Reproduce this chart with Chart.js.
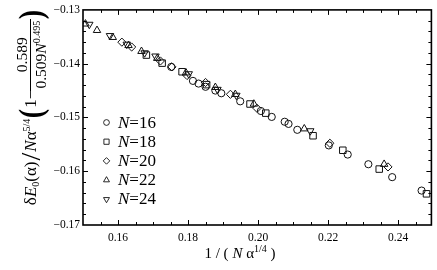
<!DOCTYPE html>
<html>
<head>
<meta charset="utf-8">
<script src="https://cdn.jsdelivr.net/npm/chart.js@4/dist/chart.umd.min.js"></script>
<style>
  html,body{margin:0;padding:0;background:#fff;}
  #wrap{position:relative;width:437px;height:270px;overflow:hidden;font-family:"Liberation Serif","Times New Roman",serif;color:#000;}
  canvas{position:absolute;left:0;top:0;}
  #ytitle{position:absolute;left:-79px;top:91px;width:220px;height:32px;transform:rotate(-90deg);display:flex;align-items:center;justify-content:center;font-size:17px;white-space:nowrap;}
  #ytitle sub,#ytitle sup,#xtitle sup{font-size:10px;line-height:1;}
  #ytitle sub{vertical-align:-3px;}
  #ytitle sup,#xtitle sup{vertical-align:6px;}
  .slash{font-size:28px;line-height:28px;margin:0 1px;}
  .paren{font-size:33px;line-height:33px;transform:scaleX(0.85);font-weight:bold;}
  .frac{display:inline-flex;flex-direction:column;align-items:center;font-size:15.5px;line-height:14px;margin:0 1px;}
  .frac .num{border-bottom:1px solid #000;padding:0 2px 1px 2px;width:100%;text-align:center;}
  .frac .den{padding-top:1px;}
  .frac sup{font-size:9.5px;vertical-align:5px;}
  #xtitle{position:absolute;left:170px;width:140px;top:244px;line-height:18px;text-align:center;font-size:15px;white-space:nowrap;}
  .leg{position:absolute;left:118px;font-size:17px;line-height:19px;white-space:nowrap;}
</style>
</head>
<body>
<div id="wrap">
  <canvas id="c" width="437" height="270"></canvas>
  <div id="ytitle"><span>δ<i>E</i><sub>0</sub>(α)</span><span class="slash">/</span><span><i>N</i>α<sup>5/4</sup></span><span class="paren">(</span><span>1−</span><span class="frac"><span class="num">0.589</span><span class="den">0.509<i>N</i><sup>0.495</sup></span></span><span class="paren">)</span></div>
  <div id="xtitle">1 / ( <i>N</i> α<sup>1/4</sup> )</div>
</div>
<script>
// ---- data ----
const xTicks = [0.16, 0.18, 0.20, 0.22, 0.24];
const yTicks = [-0.17, -0.16, -0.15, -0.14, -0.13];
const seriesLabels = ["16", "18", "20", "22", "24"];

const n16x = [0.1752, 0.1814, 0.1830, 0.1850, 0.1878, 0.1895, 0.1949, 0.2008, 0.2039, 0.2076, 0.2087, 0.2112, 0.2202, 0.2256, 0.2315, 0.2383, 0.2467];
const n16y = [-0.1406, -0.1432, -0.1437, -0.1443, -0.1450, -0.1455, -0.1470, -0.1488, -0.1499, -0.1508, -0.1512, -0.1523, -0.1552, -0.1569, -0.1587, -0.1611, -0.1636];

const n18x = [0.1681, 0.1726, 0.1783, 0.1853, 0.1977, 0.2022, 0.2157, 0.2242, 0.2346, 0.2481];
const n18y = [-0.1384, -0.1399, -0.1415, -0.1439, -0.1475, -0.1492, -0.1534, -0.1561, -0.1596, -0.1642];

const n20x = [0.1611, 0.1639, 0.1721, 0.1754, 0.1797, 0.1850, 0.1921, 0.1997, 0.2205, 0.2371];
const n20y = [-0.1360, -0.1369, -0.1395, -0.1406, -0.1422, -0.1435, -0.1457, -0.1483, -0.1548, -0.1592];

const n22x = [0.1507, 0.1540, 0.1585, 0.1630, 0.1667, 0.1712, 0.1794, 0.1878, 0.1935, 0.1988, 0.2132, 0.2360];
const n22y = [-0.1326, -0.1338, -0.1351, -0.1366, -0.1377, -0.1390, -0.1417, -0.1444, -0.1457, -0.1475, -0.1521, -0.1587];

const n24x = [0.1518, 0.1577, 0.1625, 0.1676, 0.1707, 0.1802, 0.1884, 0.1938, 0.2149];
const n24y = [-0.1327, -0.1348, -0.1364, -0.1380, -0.1386, -0.1419, -0.1448, -0.1459, -0.1525];

// ---- build ----
function pts(xs, ys){ return xs.map((v,i)=>({x:v, y:ys[i]})); }
const styles = [
  {pointStyle:'circle',   pointRadius:3.6, pointRotation:0},
  {pointStyle:'rect',     pointRadius:4.6, pointRotation:0},
  {pointStyle:'rectRot',  pointRadius:4.1, pointRotation:0},
  {pointStyle:'triangle', pointRadius:4.3, pointRotation:0},
  {pointStyle:'triangle', pointRadius:4.3, pointRotation:180}
];
const allX = [n16x, n18x, n20x, n22x, n24x];
const allY = [n16y, n18y, n20y, n22y, n24y];
const datasets = allX.map((xs,i)=>Object.assign({
  label: 'N=' + seriesLabels[i],
  data: pts(xs, allY[i]),
  showLine:false,
  pointBorderColor:'#111',
  pointBackgroundColor:'rgba(0,0,0,0)',
  pointBorderWidth:1
}, styles[i]));

const X_MIN = 0.15, X_MAX = 0.2495, Y_MIN = -0.17, Y_MAX = -0.13;
const X_MINOR = 0.005, Y_MINOR = 0.002;

const frameTicks = {
  id:'frameTicks',
  afterDraw(chart){
    const ctx = chart.ctx, a = chart.chartArea, x = chart.scales.x, y = chart.scales.y;
    ctx.save();
    ctx.strokeStyle = '#000';
    ctx.lineWidth = 1;
    ctx.beginPath();
    for (let k = Math.ceil(X_MIN/X_MINOR - 1e-6); k*X_MINOR <= X_MAX + 1e-9; k++){
      const v = k*X_MINOR;
      const px = Math.round(x.getPixelForValue(v)) + 0.5;
      if (px < a.left + 1 || px > a.right - 1) continue;
      const major = Math.abs(v/0.02 - Math.round(v/0.02)) < 1e-6;
      const len = major ? 5 : 3;
      ctx.moveTo(px, a.bottom); ctx.lineTo(px, a.bottom - len);
      ctx.moveTo(px, a.top); ctx.lineTo(px, a.top + len);
    }
    for (let k = Math.ceil(Y_MIN/Y_MINOR - 1e-6); k*Y_MINOR <= Y_MAX + 1e-9; k++){
      const v = k*Y_MINOR;
      const py = Math.round(y.getPixelForValue(v)) + 0.5;
      if (py < a.top + 1 || py > a.bottom - 1) continue;
      const major = Math.abs(v/0.01 - Math.round(v/0.01)) < 1e-6;
      const len = major ? 5 : 3;
      ctx.moveTo(a.left, py); ctx.lineTo(a.left + len, py);
      ctx.moveTo(a.right, py); ctx.lineTo(a.right - len, py);
    }
    ctx.stroke();
    ctx.lineWidth = 1.6;
    ctx.strokeRect(a.left, a.top, a.right - a.left, a.bottom - a.top);
    // legend markers
    const legX = 106.5, legY0 = 122.5, legDY = 19.2;
    chart.data.datasets.forEach((ds, i) => {
      ctx.strokeStyle = '#111';
      ctx.fillStyle = 'rgba(0,0,0,0)';
      ctx.lineWidth = 0.9;
      Chart.helpers.drawPoint(ctx, {
        pointStyle: ds.pointStyle,
        radius: ds.pointRadius * 0.8,
        rotation: ds.pointRotation,
        borderWidth: 0.9
      }, legX, legY0 + i*legDY);
    });
    ctx.restore();
  }
};

// legend texts
(function(){
  const wrap = document.getElementById('wrap');
  const legY0 = 122.5, legDY = 19.2;
  seriesLabels.forEach((s,i)=>{
    const d = document.createElement('div');
    d.className = 'leg';
    d.style.top = (legY0 + i*legDY - 10) + 'px';
    d.innerHTML = '<i>N</i>=' + s;
    wrap.appendChild(d);
  });
})();

const fontTick = {family:'"Liberation Serif","Times New Roman",serif', size:11.5};

new Chart(document.getElementById('c'), {
  type:'scatter',
  data:{datasets},
  options:{
    responsive:false,
    animation:false,
    devicePixelRatio:1,
    events:[],
    layout:{padding:{top:6, right:1.5, left:0, bottom:0}},
    plugins:{legend:{display:false}, tooltip:{enabled:false}},
    scales:{
      x:{
        type:'linear', min:X_MIN, max:X_MAX,
        grid:{display:false, drawTicks:false},
        border:{display:false},
        afterBuildTicks(s){ s.ticks = xTicks.map(v=>({value:v})); },
        afterFit(s){ s.height = 45; },
        ticks:{padding:6, color:'#000', font:fontTick, maxRotation:0, autoSkip:false,
          callback:(v)=>Number(v).toFixed(2)}
      },
      y:{
        type:'linear', min:Y_MIN, max:Y_MAX,
        grid:{display:false, drawTicks:false},
        border:{display:false},
        afterBuildTicks(s){ s.ticks = yTicks.map(v=>({value:v})); },
        afterFit(s){ s.width = 83; },
        ticks:{padding:3, color:'#000', font:fontTick, autoSkip:false,
          callback:(v)=>Number(v).toFixed(2).replace('-', '\u2212')}
      }
    }
  },
  plugins:[frameTicks]
});
</script>
</body>
</html>
